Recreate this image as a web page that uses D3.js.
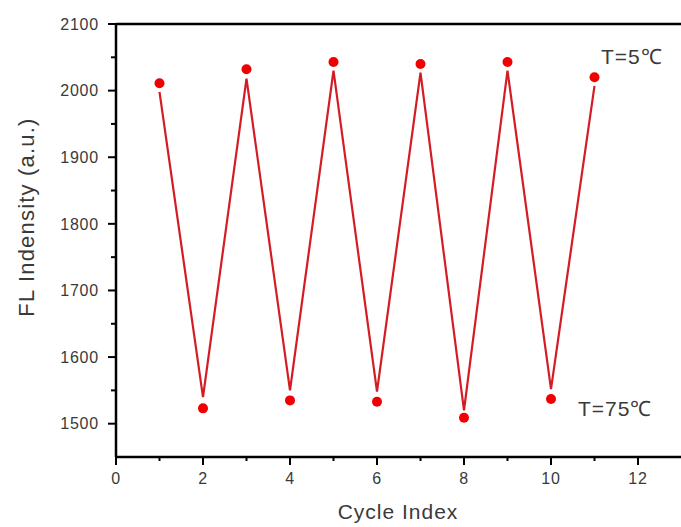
<!DOCTYPE html>
<html>
<head>
<meta charset="utf-8">
<script src="https://cdn.jsdelivr.net/npm/d3@7"></script>
<style>
  body { margin: 0; background: #fff; }
  svg text { font-family: "Liberation Sans", Arimo, Arial, sans-serif; fill: #3a3a3a; }
</style>
</head>
<body>
<script>
// cycle index of each measurement
var cycles = [1, 2, 3, 4, 5, 6, 7, 8, 9, 10, 11];
// marker values (FL intensity)
var pointValues = [2011, 1523, 2032, 1535, 2043, 1533, 2040, 1509, 2043, 1537, 2020];
// the connecting line sits a little inside the markers
var lineValues = [1998, 1540, 2018, 1550, 2030, 1548, 2027, 1520, 2030, 1552, 2007];

var xTicks = [0, 2, 4, 6, 8, 10, 12];
var yTicks = [1500, 1600, 1700, 1800, 1900, 2000, 2100];
var notes = [
    { text: 'T=5\u2103', cycle: 11.15, value: 2040 },
    { text: 'T=75\u2103', cycle: 10.62, value: 1512 }
];

var width = 681,
    height = 527,
    margin = { top: 24, right: 0, bottom: 70, left: 116 };

var x = d3.scaleLinear().domain([0, 13]).range([margin.left, 681.5]);
var y = d3.scaleLinear().domain([1450, 2100]).range([457, margin.top]);

var svg = d3.select('body').append('svg')
    .attr('width', width)
    .attr('height', height);

// top frame
svg.append('line')
    .attr('x1', x(0)).attr('x2', width)
    .attr('y1', y(2100)).attr('y2', y(2100))
    .attr('stroke', '#000').attr('stroke-width', 2.5);

// x axis: major ticks at even numbers, minor at odd
var xAxis = svg.append('g').attr('transform', 'translate(0,' + y(1450) + ')');
xAxis.append('line')
    .attr('x1', x(0)).attr('x2', width)
    .attr('stroke', '#000').attr('stroke-width', 2.5);
xAxis.selectAll('line.major').data(xTicks).enter().append('line')
    .attr('class', 'major')
    .attr('x1', function (d) { return x(d); })
    .attr('x2', function (d) { return x(d); })
    .attr('y1', 0).attr('y2', 8)
    .attr('stroke', '#000').attr('stroke-width', 2);
xAxis.selectAll('line.minor').data(d3.range(1, 13, 2)).enter().append('line')
    .attr('class', 'minor')
    .attr('x1', function (d) { return x(d); })
    .attr('x2', function (d) { return x(d); })
    .attr('y1', 0).attr('y2', 4)
    .attr('stroke', '#000').attr('stroke-width', 2);
xAxis.selectAll('text').data(xTicks).enter().append('text')
    .attr('x', function (d) { return x(d); })
    .attr('y', 27)
    .attr('text-anchor', 'middle')
    .style('font-size', '16px')
    .style('letter-spacing', '0.8px')
    .text(function (d) { return d; });

// y axis
var yAxis = svg.append('g').attr('transform', 'translate(' + x(0) + ',0)');
yAxis.append('line')
    .attr('y1', y(1450)).attr('y2', y(2100))
    .attr('stroke', '#000').attr('stroke-width', 2.5);
yAxis.selectAll('line.major').data(yTicks).enter().append('line')
    .attr('class', 'major')
    .attr('y1', function (d) { return y(d); })
    .attr('y2', function (d) { return y(d); })
    .attr('x1', 0).attr('x2', -8)
    .attr('stroke', '#000').attr('stroke-width', 2);
yAxis.selectAll('line.minor').data(d3.range(1550, 2100, 100)).enter().append('line')
    .attr('class', 'minor')
    .attr('y1', function (d) { return y(d); })
    .attr('y2', function (d) { return y(d); })
    .attr('x1', 0).attr('x2', -5)
    .attr('stroke', '#000').attr('stroke-width', 2);
yAxis.selectAll('text').data(yTicks).enter().append('text')
    .attr('x', -17)
    .attr('y', function (d) { return y(d); })
    .attr('dy', '0.36em')
    .attr('text-anchor', 'end')
    .style('font-size', '16px')
    .style('letter-spacing', '0.8px')
    .text(function (d) { return d; });

// axis titles
svg.append('text')
    .attr('x', 398).attr('y', 519)
    .attr('text-anchor', 'middle')
    .style('font-size', '21px')
    .style('letter-spacing', '1px')
    .text('Cycle Index');

svg.append('text')
    .attr('transform', 'translate(34,217) rotate(-90)')
    .attr('text-anchor', 'middle')
    .style('font-size', '22px')
    .style('letter-spacing', '1.2px')
    .text('FL Indensity (a.u.)');

// line
var line = d3.line()
    .x(function (d, i) { return x(cycles[i]); })
    .y(function (d) { return y(d); });

svg.append('path')
    .datum(lineValues)
    .attr('d', line)
    .attr('fill', 'none')
    .attr('stroke', '#d41c24')
    .attr('stroke-width', 2.2);

// markers
svg.selectAll('circle.pt').data(pointValues).enter().append('circle')
    .attr('class', 'pt')
    .attr('cx', function (d, i) { return x(cycles[i]); })
    .attr('cy', function (d) { return y(d); })
    .attr('r', 5)
    .attr('fill', '#f00000');

// temperature notes
svg.selectAll('text.note').data(notes).enter().append('text')
    .attr('class', 'note')
    .attr('x', function (d) { return x(d.cycle); })
    .attr('y', function (d) { return y(d.value); })
    .style('font-size', '21px')
    .style('letter-spacing', '1px')
    .text(function (d) { return d.text; });
</script>
</body>
</html>
